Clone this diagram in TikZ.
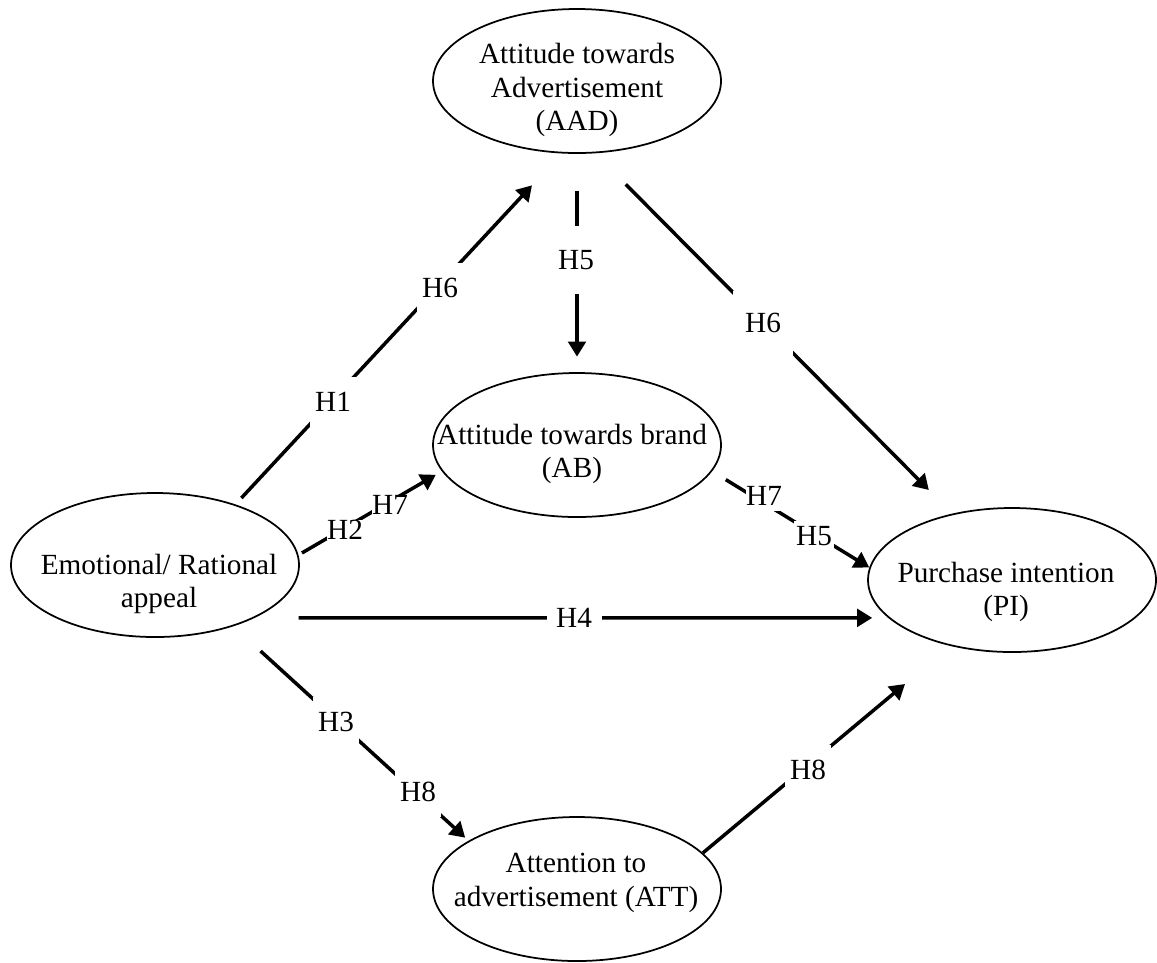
\documentclass[tikz,border=0pt]{standalone}
\usepackage{fontspec}
\setmainfont{Liberation Serif}
\usetikzlibrary{arrows.meta,shapes.geometric}
\tikzset{
  oval/.style={draw,ellipse,line width=0.7pt,minimum width=115.2pt,minimum height=57.6pt,inner sep=0pt},
  caption/.style={align=center,inner sep=0pt},
  hyp/.style={fill=white,inner xsep=2pt,inner ysep=6pt},
  link/.style={line width=1.4pt,-{Triangle[length=6pt,width=7pt]}},
}

\begin{document}
\begin{tikzpicture}[x=0.4pt,y=-0.4pt,font=\fontsize{11.7}{13.4}\selectfont]
  \useasboundingbox (0,0) rectangle (1157,962);

  % constructs
  \node[oval] (AAD) at (577,81) {};
  \node[oval] (AB) at (577,445) {};
  \node[oval] (ER) at (155,565) {};
  \node[oval] (PI) at (1012,580) {};
  \node[oval] (ATT) at (577,889) {};

  \node[caption] (AAD-t) at (577,90) {Attitude towards\\Advertisement\\(AAD)};
  \node[caption] (AB-t) at (572,454) {Attitude towards brand\\(AB)};
  \node[caption] (ER-t) at (159,584) {Emotional/ Rational\\appeal};
  \node[caption] (PI-t) at (1006,592) {Purchase intention\\(PI)};
  \node[caption] (ATT-t) at (576,883) {Attention to\\advertisement (ATT)};

  % paths
  \draw[link,shorten <=3.5pt,shorten >=17.4pt] (ER.37.5) -- (AAD.258.8);
  \draw[link,shorten <=15pt,shorten >=6.2pt] (AAD.south) -- (AB.north);
  \draw[link,shorten <=17.5pt,shorten >=13.3pt] (AAD.284.95) -- (PI.132.4);
  \draw[link,shorten <=1.6pt,shorten >=2.8pt] (ER.4.2) -- (AB.191.15);
  \draw[link,shorten <=6.4pt] (AB.349.8) -- (PI.175.6);
  \draw[link,shorten <=17.6pt,shorten >=6.4pt] (ER.-28.75) -- (PI.197.46);
  \draw[link,shorten <=14.7pt,shorten >=1.8pt] (ER.-38.8) -- (ATT.156.95);
  \draw[link,shorten >=23.7pt] (ATT.16.3) -- (PI.227.9);

  % hypotheses
  \node[hyp] (h1) at (333,402) {H1};
  \node[hyp] (h6a) at (440,288) {H6};
  \node[hyp,minimum height=27pt] (h5a) at (576,260) {H5};
  \node[hyp,minimum width=24pt,minimum height=26pt] (h6b) at (763,323) {H6};
  \node[hyp,inner sep=0pt] (h2) at (345,530) {H2};
  \node[hyp,inner sep=0pt] (h7a) at (390,505) {H7};
  \node[hyp,inner sep=0pt,inner ysep=2pt] (h7b) at (764,496) {H7};
  \node[hyp,inner xsep=1pt,inner ysep=2pt] (h5b) at (814,536) {H5};
  \node[hyp,minimum width=22pt] (h4) at (574,618) {H4};
  \node[hyp] (h3) at (336,722) {H3};
  \node[hyp] (h8a) at (418,792) {H8};
  \node[hyp] (h8b) at (808,770) {H8};
\end{tikzpicture}
\end{document}
